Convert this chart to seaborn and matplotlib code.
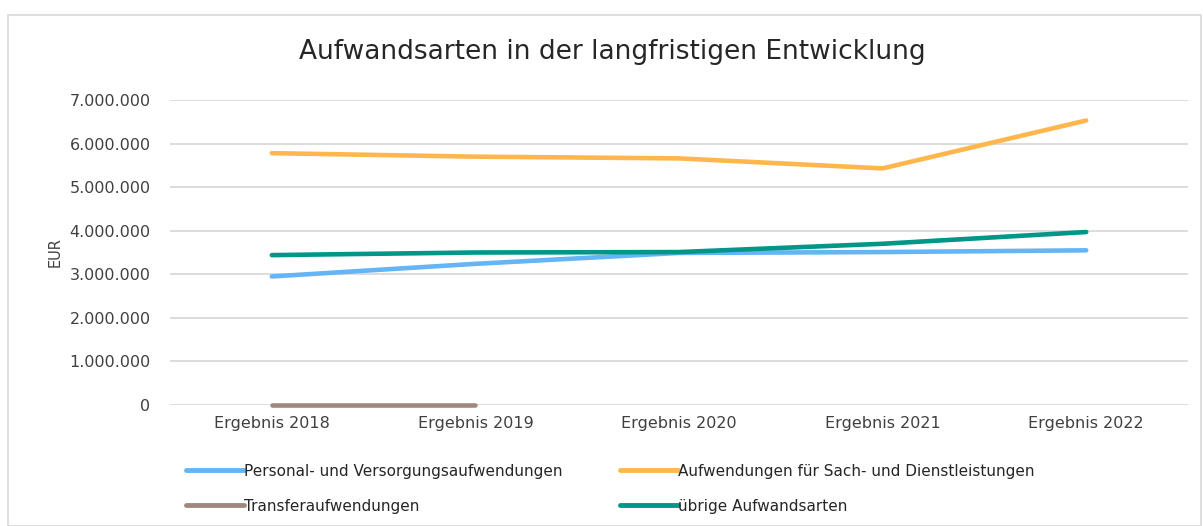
import matplotlib
matplotlib.use('Agg')
import matplotlib.pyplot as plt
import seaborn as sns
import numpy as np
import pandas as pd
from matplotlib.patches import Rectangle
from matplotlib.ticker import FuncFormatter

# -------------------------------
# DATA
# -------------------------------
years = ["Ergebnis 2018", "Ergebnis 2019", "Ergebnis 2020", "Ergebnis 2021", "Ergebnis 2022"]
personal = [2950000, 3240000, 3490000, 3510000, 3550000]
sach = [5780000, 5700000, 5660000, 5430000, 6530000]
transfer = [0, 0, np.nan, np.nan, np.nan]
uebrige = [3440000, 3500000, 3510000, 3700000, 3970000]

series_names = [
    "Personal- und Versorgungsaufwendungen",
    "Aufwendungen für Sach- und Dienstleistungen",
    "Transferaufwendungen",
    "übrige Aufwandsarten",
]
colors = ["#64b5f6", "#ffb74d", "#a1887f", "#009688"]

df = pd.DataFrame({
    "Jahr": years * 4,
    "Wert": personal + sach + transfer + uebrige,
    "Art": sum([[n] * len(years) for n in series_names], []),
})

sns.set_theme(style="whitegrid")
plt.rcParams['font.family'] = ['DejaVu Sans']

fig = plt.figure(figsize=(12.03, 5.26), dpi=100)
ax = fig.add_axes([170 / 1203, 1 - 405 / 526, (1188 - 170) / 1203, 305 / 526])

sns.lineplot(data=df, x="Jahr", y="Wert", hue="Art", palette=colors,
             hue_order=series_names, linewidth=3.3, ax=ax, sort=False,
             solid_capstyle='round', legend=True)
for line in ax.get_lines():
    line.set_clip_on(False)
    line.set_zorder(3)

ax.set_xlim(-0.5, 4.5)
ax.set_ylim(0, 7000000)
ax.set_yticks(np.arange(0, 7000001, 1000000))
ax.yaxis.set_major_formatter(FuncFormatter(lambda v, p: f"{int(v):,}".replace(",", ".")))
ax.grid(axis='y', color='#d9d9d9', linewidth=1.3)
ax.grid(axis='x', visible=False)
for s in ax.spines.values():
    s.set_visible(False)
ax.tick_params(axis='both', labelsize=11.5, colors='#404040', length=0, pad=8)
ax.tick_params(axis='y', pad=14)
ax.set_xlabel("")
ax.set_ylabel("EUR", fontsize=10.5, color='#404040', labelpad=5)

fig.text(612 / 1203, 1 - 52 / 526, "Aufwandsarten in der langfristigen Entwicklung",
         ha='center', va='center', fontsize=19, color='#262626')

# legend row-major like the original: reorder for column-major filling
handles, labels = ax.get_legend_handles_labels()
order = [0, 2, 1, 3]
leg = ax.legend([handles[i] for i in order], [labels[i] for i in order],
                loc='upper left', bbox_to_anchor=(172 / 1203, 1 - 450 / 526),
                bbox_transform=fig.transFigure, ncol=2, frameon=False, fontsize=11,
                handlelength=3.8, handletextpad=0.0, columnspacing=3.8, labelspacing=1.3,
                labelcolor='#262626')
for line in leg.get_lines():
    line.set_linewidth(3.5)

fig.patches.append(Rectangle((8 / 1203, 0), 1 - 8 / 1203 - 2 / 1203, 1 - 15 / 526,
                             transform=fig.transFigure, fill=False,
                             edgecolor='#d9d9d9', linewidth=1.2))

fig.savefig("out.png", dpi=100)
